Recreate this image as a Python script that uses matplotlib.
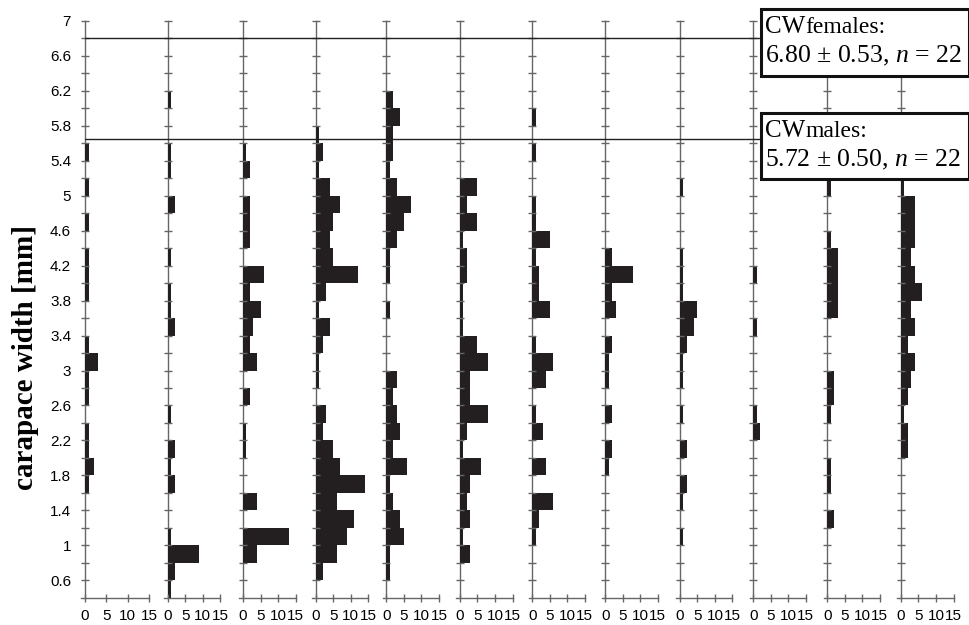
import numpy as np
import matplotlib
matplotlib.use('Agg')
import matplotlib.pyplot as plt
from matplotlib.patches import Rectangle

plt.rcParams['font.family'] = ['Liberation Sans', 'DejaVu Sans']
plt.rcParams['mathtext.fontset'] = 'custom'
plt.rcParams['mathtext.rm'] = 'Liberation Serif'
plt.rcParams['mathtext.it'] = 'Liberation Serif:italic'

# lower edges of the 0.2 mm size classes (0.4 ... 6.0)
bin_lo = np.round(np.arange(0.4, 6.2, 0.2), 1)
bin_w = 0.2

# counts per size class, one list per panel (index 0 = 0.4-0.6 mm)
p1 = [0, 0, 0, 0, 0, 0, 1, 2, 1, 1, 0, 1, 1, 3, 1, 0, 0, 1, 1, 1, 0, 1, 0, 1, 0, 1, 0, 0, 0]
p2 = [1, 2, 9, 1, 0, 0, 2, 1, 2, 0, 1, 0, 0, 0, 0, 2, 1, 1, 0, 1, 0, 0, 2, 0, 1, 1, 0, 0, 1]
p3 = [0, 0, 4, 13, 0, 4, 0, 0, 1, 1, 0, 2, 0, 4, 2, 3, 5, 2, 6, 0, 2, 2, 2, 0, 2, 1, 0, 0, 0]
p4 = [0, 2, 6, 9, 11, 6, 14, 7, 5, 2, 3, 0, 1, 1, 2, 4, 1, 3, 12, 5, 4, 5, 7, 4, 1, 2, 1, 0, 0]
p5 = [0, 1, 1, 5, 4, 2, 1, 6, 2, 4, 3, 2, 3, 0, 0, 0, 1, 0, 1, 1, 3, 5, 7, 3, 1, 2, 2, 4, 2]
p6 = [0, 0, 3, 1, 3, 2, 3, 6, 1, 2, 8, 3, 3, 8, 5, 1, 1, 1, 2, 2, 1, 5, 2, 5, 0, 0, 0, 0, 0]
p7 = [0, 0, 0, 1, 2, 6, 0, 4, 0, 3, 1, 0, 4, 6, 1, 0, 5, 2, 2, 1, 5, 1, 1, 0, 0, 1, 0, 1, 0]
p8 = [0, 0, 0, 0, 0, 0, 0, 1, 2, 0, 2, 0, 1, 1, 2, 0, 3, 2, 8, 2, 0, 0, 0, 0, 0, 0, 0, 0, 0]
p9 = [0, 0, 0, 1, 0, 1, 2, 0, 2, 0, 1, 0, 1, 1, 2, 4, 5, 1, 1, 1, 0, 0, 0, 1, 0, 0, 0, 0, 0]
p10 = [0, 0, 0, 0, 0, 0, 0, 0, 0, 2, 1, 0, 0, 0, 0, 1, 0, 0, 1, 0, 0, 0, 0, 0, 0, 0, 0, 0, 0]
p11 = [0, 0, 0, 0, 2, 0, 1, 1, 0, 0, 1, 2, 2, 0, 0, 0, 3, 3, 3, 3, 1, 0, 0, 1, 0, 0, 0, 0, 0]
p12 = [0, 0, 0, 0, 0, 0, 0, 0, 2, 2, 1, 2, 3, 4, 2, 4, 3, 6, 4, 3, 4, 4, 4, 1, 0, 0, 0, 0, 0]
panels = [p1, p2, p3, p4, p5, p6, p7, p8, p9, p10, p11, p12]

# mean carapace widths (lines as drawn in the figure)
cw_female_line = 6.8
cw_male_line = 5.65
female_text = r"6.80 ± 0.53, $n$ = 22"
male_text = r"5.72 ± 0.50, $n$ = 22"

x_ticks = [0, 5, 10, 15]
y_major = np.round(np.arange(0.6, 7.01, 0.4), 1)
y_minor = np.round(np.arange(0.8, 6.81, 0.4), 1)

# ---- layout (pixels) ----
W, H = 970, 625
fig = plt.figure(figsize=(W / 100, H / 100), dpi=100)
zero_px = [85, 167.7, 243, 315.7, 386.5, 460, 532.3, 605.3, 680, 753.3, 827.3, 901]
scale_px = [4.27] + [3.5] * 11
ax_top, ax_bot = 21, 597.7
bottom = 1 - ax_bot / H
height = (ax_bot - ax_top) / H
axis_col = '#666666'
bar_col = '#231f20'

for i, counts in enumerate(panels):
    left = zero_px[i] - scale_px[i]
    ax = fig.add_axes([left / W, bottom, 16 * scale_px[i] / W, height])
    ax.barh(bin_lo, counts, height=bin_w, align='edge', color=bar_col, linewidth=0)
    ax.set_xlim(-1, 15)
    ax.set_ylim(0.4, 7.0)
    ax.patch.set_visible(False)
    for s in ['top', 'right']:
        ax.spines[s].set_visible(False)
    for s in ['left', 'bottom']:
        ax.spines[s].set_color(axis_col)
        ax.spines[s].set_linewidth(1.0)
        ax.spines[s].set_zorder(0.5)
    ax.spines['left'].set_position(('data', 0))
    ax.set_xticks(x_ticks)
    ax.set_xticklabels([str(t) for t in x_ticks])
    ax.set_yticks(y_major)
    ax.set_yticks(y_minor, minor=True)
    ax.tick_params(axis='x', direction='inout', length=6, width=1, color=axis_col,
                   labelsize=11, pad=5)
    ax.tick_params(axis='y', which='both', direction='inout', length=6, width=1,
                   color=axis_col, labelsize=11, pad=7)
    if i == 0:
        ax.set_yticklabels(['%g' % v for v in y_major])
    else:
        ax.tick_params(axis='y', labelleft=False)

# horizontal mean lines from first axis to the boxes
box_left = 761
ax_l = fig.add_axes([85 / W, bottom, (box_left - 85) / W, height])
ax_l.set_ylim(0.4, 7.0)
ax_l.set_xlim(0, 1)
ax_l.axhline(cw_female_line, color='#222222', lw=1.0)
ax_l.axhline(cw_male_line, color='#222222', lw=1.0)
ax_l.axis('off')

renderer = fig.canvas.get_renderer()

# boxes with means
def add_box(y0, y1, sex, value_text):
    rect = Rectangle((box_left / W, 1 - y1 / H), (969 - box_left) / W, (y1 - y0) / H,
                     transform=fig.transFigure, facecolor='white', edgecolor='#111111',
                     linewidth=2.2, zorder=10)
    fig.add_artist(rect)
    cw = fig.text(765 / W, 1 - (y0 + 24) / H, 'CW', family='Liberation Serif', size=18,
                  va='baseline', ha='left', zorder=11)
    x_after = cw.get_window_extent(renderer).x1 / W
    fig.text(x_after, 1 - (y0 + 24) / H, sex + ':', family='Liberation Serif', size=17,
             va='baseline', ha='left', zorder=11)
    fig.text(765 / W, 1 - (y0 + 53) / H, value_text, family='Liberation Serif', size=18.5,
             va='baseline', ha='left', zorder=11)

add_box(9, 76, 'females', female_text)
add_box(113, 179, 'males', male_text)

fig.text(26 / W, 1 - 358 / H, 'carapace width [mm]', rotation=90, family='Liberation Serif',
         weight='bold', size=21, ha='center', va='center')

fig.savefig('out.png', dpi=100)
